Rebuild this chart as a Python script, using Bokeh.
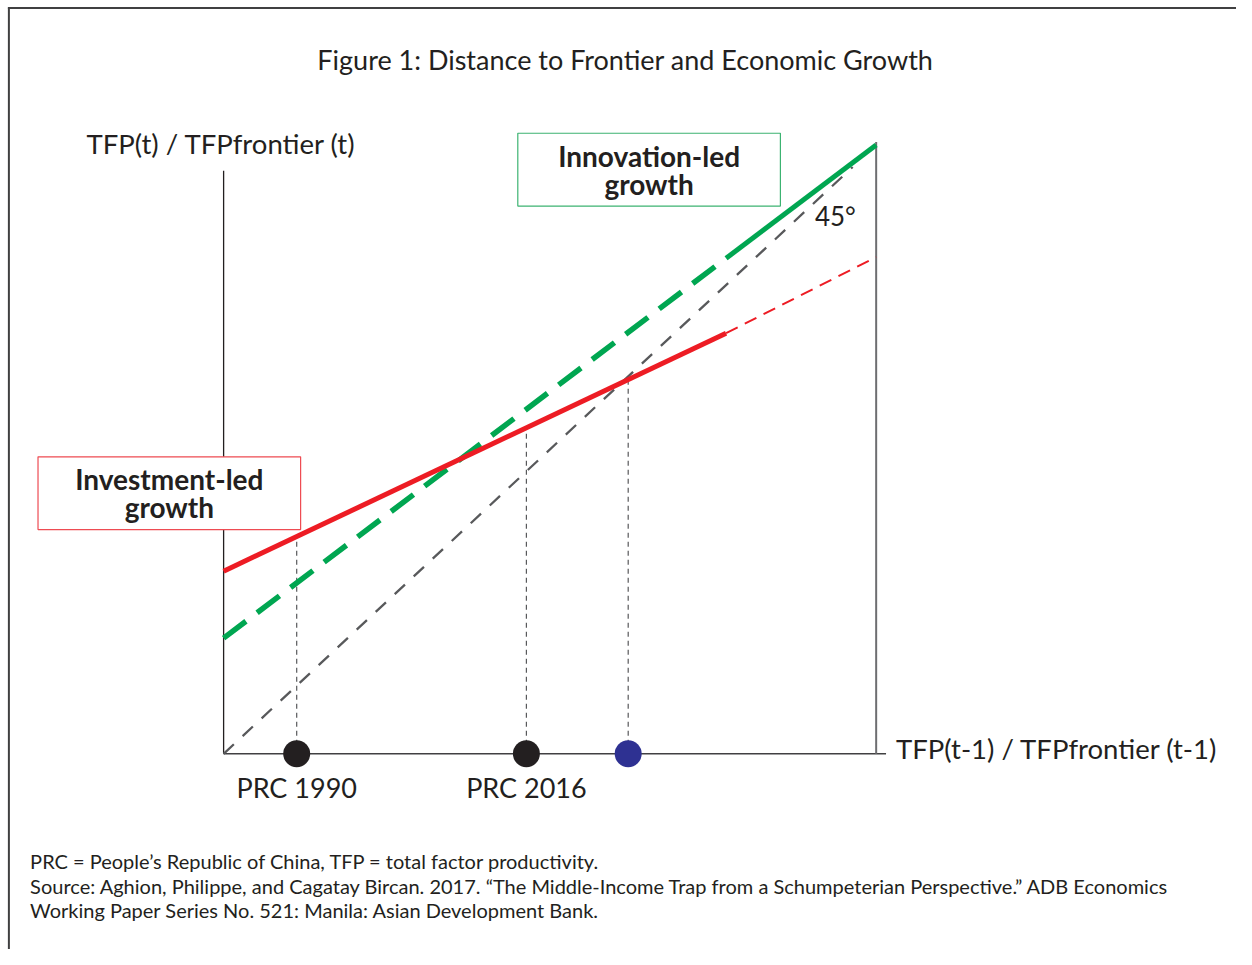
from bokeh.plotting import figure
from bokeh.models import Range1d, Label
from bokeh.embed import file_html
from bokeh.resources import INLINE

# ---------------- data (conceptual units: axes run 0..1) ----------------
# Innovation-led growth (green): dashed part then solid part
green_dash_x = [0.0, 0.77]
green_dash_y = [0.19, 0.814]
green_solid_x = [0.77, 1.0]
green_solid_y = [0.814, 1.0]
# Investment-led growth (red): solid part then dashed extension
red_solid_x = [0.0, 0.77]
red_solid_y = [0.30, 0.691]
red_dash_x = [0.77, 1.0]
red_dash_y = [0.691, 0.816]
# 45 degree line
diag_x = [0.0, 0.964]
diag_y = [0.0, 0.964]
# points on the horizontal axis
point_x = [0.112, 0.464, 0.620]
point_y = [0.0, 0.0, 0.0]
point_labels = ["PRC 1990", "PRC 2016", ""]
point_colors = ["#231f20", "#231f20", "#2e3192"]
# tops of the dotted drop lines (where they meet the red line)
drop_top_y = [0.355, 0.538, 0.619]

title_text = "Figure 1: Distance to Frontier and Economic Growth"
y_title = "TFP(t) / TFPfrontier (t)"
x_title = "TFP(t-1) / TFPfrontier (t-1)"
innov_label = ["Innovation-led", "growth"]
invest_label = ["Investment-led", "growth"]
footer = [
    "PRC = People\u2019s Republic of China, TFP = total factor productivity.",
    "Source: Aghion, Philippe, and Cagatay Bircan. 2017. \u201cThe Middle-Income Trap from a Schumpeterian Perspective.\u201d ADB Economics",
    "Working Paper Series No. 521: Manila: Asian Development Bank.",
]

# ---------------- layout ----------------
W, H = 1236, 949
REF_W, REF_H = 1252, 965
PX0, PX1 = 226, 887      # reference x of conceptual x=0 and x=1
PY0, PY1 = 766, 147      # reference y of conceptual y=0 and y=1


def dx(px):
    return (px - PX0) / (PX1 - PX0)


def dy(py):
    return (PY0 - py) / (PY0 - PY1)


TXT = "#231f20"
GREEN = "#00a651"
RED = "#ed1c24"
GREY = "#58595b"
FONT = "Lato"

p = figure(width=W, height=H, output_backend="svg", toolbar_location=None,
           x_range=Range1d(dx(0), dx(REF_W)), y_range=Range1d(dy(REF_H), dy(0)),
           x_axis_location=None, y_axis_location=None, min_border=0)
p.min_border_left = p.min_border_right = p.min_border_top = p.min_border_bottom = 0
p.grid.visible = False
p.outline_line_color = None
p.background_fill_color = "white"
p.border_fill_color = "white"

# outer frame (left and top edges)
p.line([dx(8.5), dx(8.5)], [dy(7), dy(REF_H)], line_color="#404041", line_width=2)
p.line([dx(7.5), dx(REF_W)], [dy(7.5), dy(7.5)], line_color="#404041", line_width=2)

# axes lines
p.line([0, 0], [dy(173), 0], line_color=TXT, line_width=1.3)
p.line([0, dx(897)], [0, 0], line_color="#414042", line_width=1.5)
p.line([1, 1], [0, dy(144)], line_color="#6d6e71", line_width=2)

# dotted drop lines
for xv, yt in zip(point_x, drop_top_y):
    p.line([xv, xv], [0, yt], line_color="#58595b", line_width=1.2, line_dash="5 4")

# 45 degree line
p.line(diag_x, diag_y, line_color=GREY, line_width=2.3, line_dash="14 12")

# green line
p.line(green_dash_x, green_dash_y, line_color=GREEN, line_width=5.5, line_dash="28 14")
p.line(green_solid_x, green_solid_y, line_color=GREEN, line_width=5)

# red line
p.line(red_solid_x, red_solid_y, line_color=RED, line_width=5)
p.line(red_dash_x, red_dash_y, line_color=RED, line_width=2, line_dash="13 8")

# points
p.scatter(point_x, point_y, size=27, fill_color=point_colors, line_color=None)

# boxes
p.quad(left=[dx(524)], right=[dx(790)], top=[dy(135)], bottom=[dy(209)],
       fill_color="white", line_color="#3cb371", line_width=1.2)
p.quad(left=[dx(38)], right=[dx(304)], top=[dy(464)], bottom=[dy(538)],
       fill_color="white", line_color="#ee4b52", line_width=1.2)


def label(x, y, text, size, bold=False, align="left", color=TXT, font=FONT):
    lab = Label(x=x, y=y, text=text, text_font=font, text_font_size=f"{size}px",
                text_font_style="bold" if bold else "normal", text_align=align,
                text_baseline="middle", text_color=color)
    p.add_layout(lab)


# box labels
label(dx(657), dy(158), innov_label[0], 28, bold=True, align="center")
label(dx(657), dy(187), innov_label[1], 28, bold=True, align="center")
label(dx(171), dy(487), invest_label[0], 28, bold=True, align="center")
label(dx(171), dy(515), invest_label[1], 28, bold=True, align="center")

# title and axis titles
label(dx(633), dy(60), title_text, 27, align="center")
label(dx(87), dy(145), y_title, 27.5)
label(dx(907), dy(761), x_title, 27.5)
label(dx(825), dy(219), "45\u00b0", 26)

# point labels
for xv, t in zip(point_x, point_labels):
    if t:
        label(xv, dy(800), t, 27, align="center")

# footer
for i, t in enumerate(footer):
    label(dx(30), dy(875 + 25 * i), t, 20)

open("out.html", "w", encoding="utf-8").write(file_html(p, INLINE))
